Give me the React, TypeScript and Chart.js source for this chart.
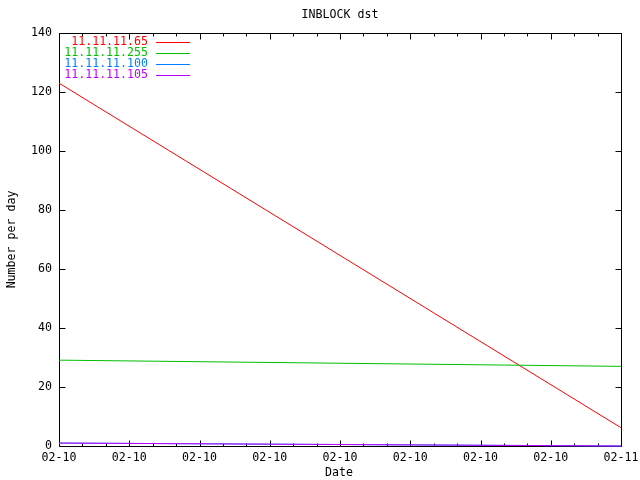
import React, { useEffect, useRef } from 'react';
import { Chart, registerables } from 'chart.js';

Chart.register(...registerables);

const chartTitle = 'INBLOCK dst';
const xAxisTitle = 'Date';
const yAxisTitle = 'Number per day';
const xTickLabels = ['02-10', '02-10', '02-10', '02-10', '02-10', '02-10', '02-10', '02-10', '02-11'];
const xPositions = [0, 8];
const seriesNames = ['11.11.11.65', '11.11.11.255', '11.11.11.100', '11.11.11.105'];
const seriesColors = ['#ff0000', '#00c000', '#0080ff', '#c000ff'];
const red65 = [123, 6.2];
const green255 = [29.1, 27.0];
const blue100 = [1.0, 0];
const purple105 = [1.0, 0];
const yMin = 0;
const yMax = 140;
const yStep = 20;
const minorPerMajor = 3;

const FONT_FAMILY = '"DejaVu Sans Mono", monospace';
const FONT_SIZE = 11.6;
const FONT = `${FONT_SIZE}px ${FONT_FAMILY}`;

const decorPlugin = {
  id: 'gnuplotDecor',
  beforeDatasetsDraw(chart: any) {
    const { ctx, chartArea: a, scales } = chart;
    const xs = scales.x;
    const ys = scales.y;
    const L = Math.round(a.left) + 0.5;
    const R = Math.round(a.right) + 0.5;
    const T = Math.round(a.top) + 0.5;
    const B = Math.round(a.bottom) + 0.5;
    ctx.save();
    ctx.strokeStyle = '#000';
    ctx.lineWidth = 1;
    ctx.beginPath();
    ctx.rect(L, T, R - L, B - T);
    const nMajor = xTickLabels.length - 1;
    for (let i = 0; i <= nMajor * minorPerMajor; i++) {
      const v = i / minorPerMajor;
      const px = Math.round(xs.getPixelForValue(v)) + 0.5;
      const len = i % minorPerMajor === 0 ? 6 : 3;
      ctx.moveTo(px, B);
      ctx.lineTo(px, B - len);
      ctx.moveTo(px, T);
      ctx.lineTo(px, T + len);
    }
    for (let v = yMin; v <= yMax; v += yStep) {
      const py = Math.round(ys.getPixelForValue(v)) + 0.5;
      ctx.moveTo(L, py);
      ctx.lineTo(L + 6, py);
      ctx.moveTo(R, py);
      ctx.lineTo(R - 6, py);
    }
    ctx.stroke();
    ctx.restore();
  },
  afterDraw(chart: any) {
    const { ctx, chartArea: a } = chart;
    ctx.save();
    ctx.font = FONT;
    ctx.fillStyle = '#000';
    ctx.textBaseline = 'middle';
    ctx.textAlign = 'center';
    ctx.fillText(chartTitle, 340, 15);
    ctx.fillText(xAxisTitle, 339, 473);
    ctx.save();
    ctx.translate(12, (a.top + a.bottom) / 2);
    ctx.rotate(-Math.PI / 2);
    ctx.fillText(yAxisTitle, 0, 0);
    ctx.restore();
    ctx.textAlign = 'right';
    for (let i = 0; i < seriesNames.length; i++) {
      const y = 42 + i * 11;
      ctx.fillStyle = seriesColors[i];
      ctx.fillText(seriesNames[i], 148, y);
      ctx.strokeStyle = seriesColors[i];
      ctx.lineWidth = 1;
      ctx.beginPath();
      ctx.moveTo(156, y + 0.5);
      ctx.lineTo(190, y + 0.5);
      ctx.stroke();
    }
    ctx.restore();
  },
};

const toPoints = (vals: number[]) => vals.map((v, i) => ({ x: xPositions[i], y: v }));

export default function App() {
  const ref = useRef<HTMLCanvasElement | null>(null);
  useEffect(() => {
    if (!ref.current) return;
    const seriesValues = [red65, green255, blue100, purple105];
    const chart = new Chart(ref.current, {
      type: 'line',
      data: {
        datasets: seriesValues.map((vals, i) => ({
          label: seriesNames[i],
          data: toPoints(vals),
          borderColor: seriesColors[i],
          backgroundColor: seriesColors[i],
          borderWidth: 1,
          pointRadius: 0,
          tension: 0,
          fill: false,
          clip: false as any,
          order: seriesValues.length - i,
        })),
      },
      options: {
        responsive: false,
        animation: false,
        events: [],
        layout: { padding: { left: 0, top: 33, right: 19, bottom: 0 } },
        plugins: {
          legend: { display: false },
          title: { display: false },
          tooltip: { enabled: false },
        },
        scales: {
          x: {
            type: 'linear',
            min: 0,
            max: xTickLabels.length - 1,
            grid: { display: false, drawTicks: false },
            border: { display: false },
            ticks: {
              stepSize: 1,
              autoSkip: false,
              maxRotation: 0,
              padding: 5,
              color: '#000',
              font: { family: FONT_FAMILY, size: FONT_SIZE },
              callback: (v: any) => xTickLabels[Math.round(Number(v))] ?? '',
            },
            afterFit: (s: any) => {
              s.height = 34;
              s.paddingLeft = 0;
              s.paddingRight = 0;
            },
          },
          y: {
            type: 'linear',
            min: yMin,
            max: yMax,
            grid: { display: false, drawTicks: false },
            border: { display: false },
            ticks: {
              stepSize: yStep,
              padding: 7,
              color: '#000',
              font: { family: FONT_FAMILY, size: FONT_SIZE },
            },
            afterFit: (s: any) => {
              s.width = 59;
              s.paddingTop = 0;
              s.paddingBottom = 0;
            },
          },
        },
      } as any,
      plugins: [decorPlugin],
    });
    return () => chart.destroy();
  }, []);
  return (
    <div style={{ position: 'fixed', left: 0, top: 0, width: 640, height: 480, background: '#fff' }}>
      <canvas ref={ref} width={640} height={480} />
    </div>
  );
}
